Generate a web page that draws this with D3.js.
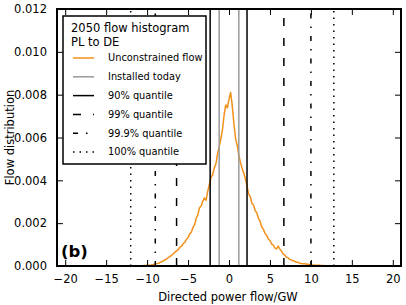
<!DOCTYPE html>
<html>
<head>
<meta charset="utf-8">
<script src="https://cdn.jsdelivr.net/npm/d3@7"></script>
<style>
  body { margin: 0; background: #fff; }
  text { font-family: "DejaVu Sans", sans-serif; fill: #000; }
</style>
</head>
<body>
<script>
// histogram of directed flow, bins of 0.2 GW starting at -11
var binStart = -11, binWidth = 0.2;
var density = [
    0.00000, 0.00001, 0.00001, 0.00002, 0.00002, 0.00003, 0.00004, 0.00004, 0.00006, 0.00007,
    0.00009, 0.00011, 0.00013, 0.00017, 0.00021, 0.00024, 0.00030, 0.00033, 0.00040, 0.00044,
    0.00051, 0.00056, 0.00065, 0.00071, 0.00076, 0.00088, 0.00092, 0.00104, 0.00110, 0.00125,
    0.00132, 0.00150, 0.00158, 0.00180, 0.00192, 0.00224, 0.00240, 0.00272, 0.00280, 0.00302,
    0.00318, 0.00306, 0.00348, 0.00380, 0.00414, 0.00426, 0.00458, 0.00476, 0.00524, 0.00556,
    0.00594, 0.00636, 0.00704, 0.00752, 0.00738, 0.00778, 0.00810, 0.00748, 0.00664, 0.00596,
    0.00564, 0.00516, 0.00484, 0.00456, 0.00434, 0.00406, 0.00374, 0.00336, 0.00324, 0.00292,
    0.00284, 0.00258, 0.00248, 0.00222, 0.00208, 0.00182, 0.00172, 0.00152, 0.00144, 0.00126,
    0.00119, 0.00103, 0.00098, 0.00084, 0.00080, 0.00093, 0.00080, 0.00070, 0.00056, 0.00052,
    0.00041, 0.00039, 0.00031, 0.00029, 0.00024, 0.00023, 0.00018, 0.00017, 0.00014, 0.00012,
    0.00011, 0.00010, 0.00009, 0.00008, 0.00007, 0.00006, 0.00005, 0.00004, 0.00004, 0.00003,
    0.00003, 0.00002, 0.00002, 0.00002, 0.00001, 0.00001, 0.00001, 0.00001, 0.00000, 0.00000
];

// vertical reference lines [low, high]
var installedToday = [-1.2, 1.2];
var q90 = [-2.3, 2.2];
var q99 = [-6.4, 6.7];
var q999 = [-9.0, 10.0];
var q100 = [-12.0, 12.8];

var xTicks = [-20, -15, -10, -5, 0, 5, 10, 15, 20];
var yTicks = [0, 0.002, 0.004, 0.006, 0.008, 0.010, 0.012];

var legendTitle = ["2050 flow histogram", "PL to DE"];
var legendLabels = ["Unconstrained flow", "Installed today", "90% quantile", "99% quantile", "99.9% quantile", "100% quantile"];

var W = 406, H = 305;
var margin = {top: 9, right: 5, bottom: 39, left: 57},
    width = W - margin.left - margin.right,
    height = H - margin.top - margin.bottom;

var orange = "#f39019", grey = "#999999";

var styles = [
    {stroke: orange, dash: null},
    {stroke: grey, dash: null},
    {stroke: "#000", dash: null},
    {stroke: "#000", dash: "8,12"},
    {stroke: "#000", dash: "5,8,1.5,8"},
    {stroke: "#000", dash: "1.5,5"}
];

var x = d3.scaleLinear().domain([-21, 21]).range([0, width]);
var y = d3.scaleLinear().domain([0, 0.012]).range([height, 0]);

var svg = d3.select("body").append("svg")
    .attr("width", W)
    .attr("height", H)
    .append("g")
    .attr("transform", "translate(" + margin.left + "," + margin.top + ")");

svg.append("clipPath")
    .attr("id", "clip")
    .append("rect")
    .attr("width", width)
    .attr("height", height);

var plot = svg.append("g").attr("clip-path", "url(#clip)");

var line = d3.line()
    .x((d, i) => x(binStart + i * binWidth))
    .y(d => y(d));

plot.append("path")
    .datum(density)
    .attr("d", line)
    .attr("fill", "none")
    .attr("stroke", orange)
    .attr("stroke-width", 1.5)
    .attr("stroke-linejoin", "round");

var vlines = [
    {vals: installedToday, s: styles[1]},
    {vals: q90, s: styles[2]},
    {vals: q99, s: styles[3]},
    {vals: q999, s: styles[4]},
    {vals: q100, s: styles[5]}
];

vlines.forEach(function (v) {
    plot.selectAll(null)
        .data(v.vals)
        .enter()
        .append("line")
        .attr("x1", d => x(d))
        .attr("x2", d => x(d))
        .attr("y1", y(0))
        .attr("y2", y(0.012))
        .attr("stroke", v.s.stroke)
        .attr("stroke-width", 1.5)
        .attr("stroke-dasharray", v.s.dash);
});

// axes, ticks pointing inwards on all four sides
var fmtY = d3.format(".3f");
var fmtX = d => d3.format("d")(d).replace("-", "\u2212");

var xAxis = svg.append("g")
    .attr("transform", "translate(0," + height + ")")
    .call(d3.axisBottom(x).tickValues(xTicks).tickFormat(fmtX).tickSizeInner(-6).tickSizeOuter(0).tickPadding(9));
var xAxisTop = svg.append("g")
    .call(d3.axisTop(x).tickValues(xTicks).tickFormat("").tickSizeInner(-6).tickSizeOuter(0));
var yAxis = svg.append("g")
    .call(d3.axisLeft(y).tickValues(yTicks).tickFormat(fmtY).tickSizeInner(-6).tickSizeOuter(0).tickPadding(10));
var yAxisRight = svg.append("g")
    .attr("transform", "translate(" + width + ",0)")
    .call(d3.axisRight(y).tickValues(yTicks).tickFormat("").tickSizeInner(-6).tickSizeOuter(0));

[xAxis, xAxisTop, yAxis, yAxisRight].forEach(function (a) {
    a.select(".domain").remove();
    a.selectAll(".tick line").attr("stroke", "#000").attr("stroke-width", 1);
    a.selectAll("text").style("font-size", "11.5px").attr("fill", "#000");
});

svg.append("rect")
    .attr("width", width)
    .attr("height", height)
    .attr("fill", "none")
    .attr("stroke", "#000")
    .attr("stroke-width", 2);

// axis labels
svg.append("text")
    .attr("x", width / 2 - 1)
    .attr("y", height + 35)
    .attr("text-anchor", "middle")
    .style("font-size", "11.5px")
    .text("Directed power flow/GW");

svg.append("text")
    .attr("transform", "translate(" + (-43) + "," + (height / 2) + ") rotate(-90)")
    .attr("text-anchor", "middle")
    .style("font-size", "11.5px")
    .text("Flow distribution");

svg.append("text")
    .attr("x", 4)
    .attr("y", height - 9)
    .style("font-size", "16.5px")
    .style("font-weight", "bold")
    .text("(b)");

// legend
var lg = svg.append("g").attr("transform", "translate(6,7)");
lg.append("rect")
    .attr("width", 143)
    .attr("height", 148)
    .attr("fill", "#fff")
    .attr("stroke", "#000")
    .attr("stroke-width", 1.5);

lg.selectAll(".title")
    .data(legendTitle)
    .enter()
    .append("text")
    .attr("class", "title")
    .attr("x", 8)
    .attr("y", (d, i) => 16 + i * 14)
    .style("font-size", "11.5px")
    .text(d => d);

var items = lg.selectAll(".item")
    .data(legendLabels)
    .enter()
    .append("g")
    .attr("class", "item")
    .attr("transform", (d, i) => "translate(0," + (42 + i * 18.8) + ")");

items.append("line")
    .attr("x1", 10)
    .attr("x2", 31)
    .attr("stroke", (d, i) => styles[i].stroke)
    .attr("stroke-width", 1.5)
    .attr("stroke-dasharray", (d, i) => styles[i].dash);

items.append("text")
    .attr("x", 45)
    .attr("dy", "0.35em")
    .style("font-size", "9.8px")
    .text(d => d);
</script>
</body>
</html>
